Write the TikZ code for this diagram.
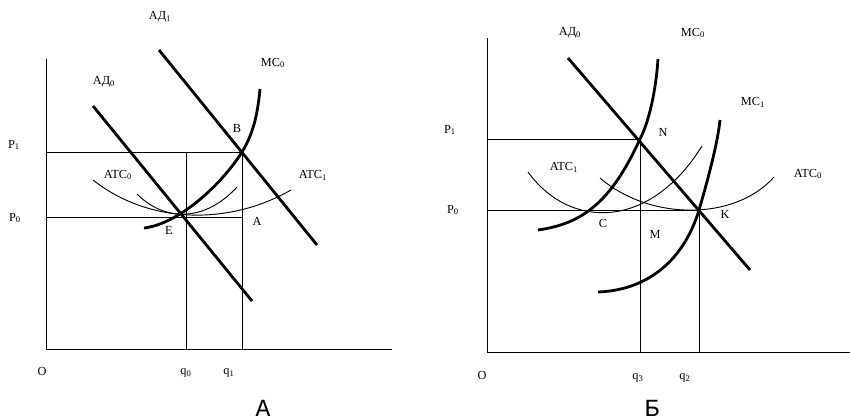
\documentclass[tikz,border=0pt]{standalone}
\usepackage{fontspec}
\setmainfont{Liberation Serif}
\newfontfamily\capfont{Liberation Mono}
\usetikzlibrary{positioning}

\begin{document}
\begin{tikzpicture}[x=0.03cm,y=-0.03cm,
    axis/.style={line width=0.7pt},
    guide/.style={line width=0.6pt},
    thickcurve/.style={line width=2.4pt},
    atc/.style={line width=0.8pt},
    lbl/.style={font=\fontsize{10.5}{12}\selectfont, inner sep=0pt},
    capt/.style={font=\capfont\fontsize{21}{24}\selectfont, inner sep=0pt, anchor=base}]
  \useasboundingbox (0,0) rectangle (850,419);

  % ---------- panel A ----------
  \coordinate (Ao)   at (46,349);
  \coordinate (Atop) at (46,59);
  \coordinate (Aend) at (392,349);
  \coordinate (E)    at (186,217);
  \coordinate (B)    at (242,152);
  \coordinate (A)    at (242,217);
  % axes
  \draw[axis] (Atop) -- (Ao) -- (Aend);
  % price levels and quantities
  \draw[guide] (Ao |- B) -- (B);
  \draw[guide] (Ao |- E) -- (A);
  \draw[guide] (E |- B) -- (E |- Ao);
  \draw[guide] (B) -- (B |- Ao);
  % average costs
  \draw[atc] (93,180) .. controls (150,225) and (230,225) .. (291,190);
  \draw[atc] (137,194) .. controls (165,222) and (205,222) .. (237,187);
  % demand
  \draw[thickcurve] (93,106) -- (252,301);
  \draw[thickcurve] (159,50) -- (317,245);
  % marginal cost
  \draw[thickcurve] (144,228) .. controls (179,224) and (222,184) .. (B)
                              .. controls (255,131) and (258,109) .. (260,89);
  % labels
  \node[lbl] (lAD1)  at (160,17)  {АД\textsubscript{1}};
  \node[lbl] (lAD0)  at (104,82)  {АД\textsubscript{0}};
  \node[lbl] (lMC0)  at (273,63)  {MC\textsubscript{0}};
  \node[lbl] (lB)    at (237,128) {B};
  \node[lbl] (lP1)   at (14,145)  {P\textsubscript{1}};
  \node[lbl] (lATC0) at (118,175) {ATC\textsubscript{0}};
  \node[lbl] (lATC1) at (313,175) {ATC\textsubscript{1}};
  \node[lbl] (lP0)   at (15,218)  {P\textsubscript{0}};
  \node[lbl] (lA)    at (257,221) {A};
  \node[lbl] (lE)    at (169,230) {E};
  \node[lbl] (lO)    at (42,371)  {O};
  \node[lbl] (lq0)   at (186,373) {q\textsubscript{0}};
  \node[lbl] (lq1)   at (229,373) {q\textsubscript{1}};
  \node[capt] (capA) at (263,416) {А};

  % ---------- panel B ----------
  \coordinate (Bo)   at (487,352);
  \coordinate (Btop) at (487,38);
  \coordinate (Bend) at (850,352);
  \coordinate (N)    at (640,139);
  \coordinate (K)    at (699,210);
  % axes
  \draw[axis] (Btop) -- (Bo) -- (Bend);
  % price levels and quantities
  \draw[guide] (Bo |- N) -- (N);
  \draw[guide] (Bo |- K) -- (K);
  \draw[guide] (N) -- (N |- Bo);
  \draw[guide] (K) -- (K |- Bo);
  % average costs
  \draw[atc] (528,172) .. controls (570,230) and (650,230) .. (702,146);
  \draw[atc] (600,178) .. controls (650,221) and (735,221) .. (774,177);
  % demand
  \draw[thickcurve] (568,58) -- (750,270);
  % marginal costs
  \draw[thickcurve] (538,230) .. controls (580,224) and (610,205) .. (N)
                              .. controls (649,122) and (656,90) .. (658,59);
  \draw[thickcurve] (598,292) .. controls (650,290) and (684.5,258) .. (K)
                              .. controls (706,186) and (717.5,145) .. (720,120);
  % labels
  \node[lbl] (rAD0)  at (570,33)  {АД\textsubscript{0}};
  \node[lbl] (rMC0)  at (693,33)  {MC\textsubscript{0}};
  \node[lbl] (rMC1)  at (753,102) {MC\textsubscript{1}};
  \node[lbl] (rP1)   at (450,130) {P\textsubscript{1}};
  \node[lbl] (rN)    at (663,132) {N};
  \node[lbl] (rATC1) at (564,167) {ATC\textsubscript{1}};
  \node[lbl] (rATC0) at (808,174) {ATC\textsubscript{0}};
  \node[lbl] (rP0)   at (453,210) {P\textsubscript{0}};
  \node[lbl] (rK)    at (725,214) {K};
  \node[lbl] (rC)    at (603,223) {C};
  \node[lbl] (rM)    at (655,234) {M};
  \node[lbl] (rO)    at (482,375) {O};
  \node[lbl] (rq3)   at (638,378) {q\textsubscript{3}};
  \node[lbl] (rq2)   at (685,378) {q\textsubscript{2}};
  \node[capt] (capB) at (652,416) {Б};
\end{tikzpicture}
\end{document}
